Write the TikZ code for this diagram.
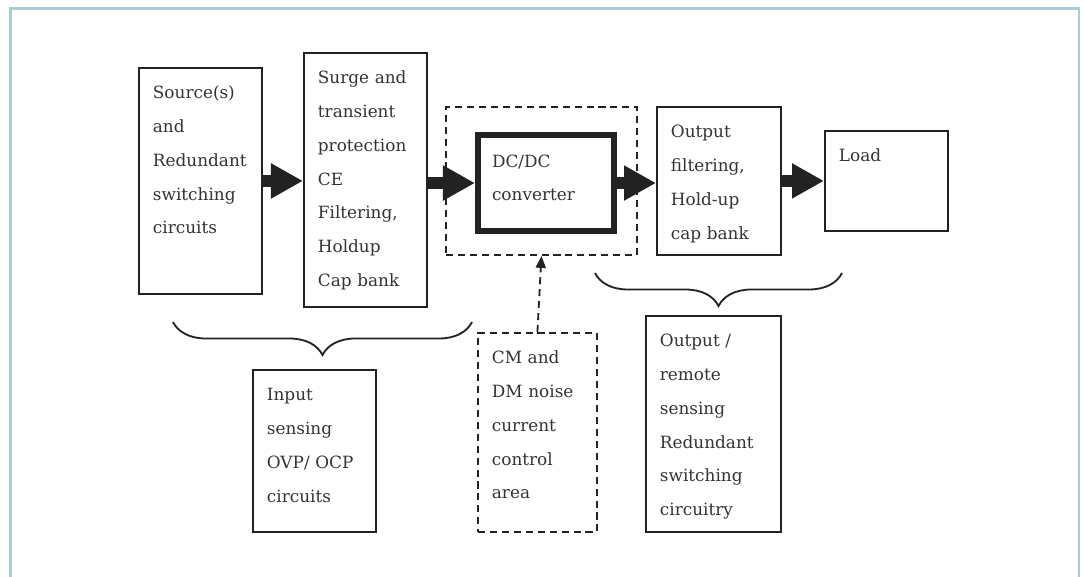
\documentclass[tikz,border=0pt]{standalone}
\usepackage{fontspec}
\setmainfont{DejaVu Serif}
\usetikzlibrary{
    arrows.meta,
    decorations.pathreplacing
}
\definecolor{linegray}{HTML}{222222}
\definecolor{textgray}{HTML}{333333}
\definecolor{framecol}{HTML}{A9CCD5}

\begin{document}
\begin{tikzpicture}[
    x=0.025cm, y=-0.025cm,
    blk/.style 2 args={draw=linegray, line width=1.3pt, anchor=north west, align=left, inner xsep=0.35cm, inner ysep=0pt, text width=#1, text height=0.775cm, text depth=#2, text=textgray, font=\fontsize{12}{24}\selectfont},
    zone/.style={draw=linegray, line width=1.3pt, dash pattern=on 5pt off 3.5pt, anchor=north west, inner sep=0pt},
    fat/.style={line width=0.3cm, linegray, -{Triangle[length=0.8cm, width=0.825cm]}},
    dasharr/.style={line width=1.3pt, linegray, dash pattern=on 5pt off 3.5pt, -{Triangle[length=0.3cm, width=0.25cm]}},
    brc/.style={decorate, decoration={brace, amplitude=0.825cm}, line width=1.3pt, linegray},
]
    \useasboundingbox (0,0) rectangle (1084,577);
    \draw[framecol, line width=1.5pt] (10.5,577) -- (10.5,8.5) -- (1079,8.5) -- (1079,577);

    % Main chain
    \node[blk={2.375cm}{4.875cm}] (src) at (138,67) {Source(s)\\and\\Redundant\\switching\\circuits};
    \node[blk={2.375cm}{5.575cm}] (surge) at (303,52) {Surge and\\transient\\protection\\CE\\Filtering,\\Holdup\\Cap bank};
    \node[zone, minimum width=4.775cm, minimum height=3.7cm] (zone) at (445,106) {};
    \node[blk={2.7cm}{1.6cm}, line width=4.3pt, text height=0.8cm] (dcdc) at (475,132) {DC/DC\\converter};
    \node[blk={2.4cm}{2.925cm}] (outf) at (656,106) {Output\\filtering,\\Hold-up\\cap bank};
    \node[blk={2.375cm}{1.725cm}] (load) at (824,130) {Load};

    \draw[fat] (src.east) -- (src.east -| surge.west);
    \draw[fat] (surge.east |- dcdc.west) -- (dcdc.west);
    \draw[fat] (dcdc.east) -- (dcdc.east -| outf.west);
    \draw[fat] (outf.east |- load.west) -- (load.west);

    % Lower row
    \node[blk={2.375cm}{3.275cm}] (insense) at (252,369) {Input\\sensing\\OVP/ OCP\\circuits};
    \node[blk={2.275cm}{4.2cm}, dash pattern=on 5pt off 3.5pt] (noise) at (477,332) {CM and\\DM noise\\current\\control\\area};
    \node[blk={2.675cm}{4.625cm}] (outsense) at (645,315) {Output /\\remote\\sensing\\Redundant\\switching\\circuitry};

    \draw[dasharr] (noise.north) -- (zone.south);

    % Braces
    \draw[brc] (472,322) -- (173,322);
    \draw[brc] (842,273) -- (595,273);

\end{tikzpicture}
\end{document}
